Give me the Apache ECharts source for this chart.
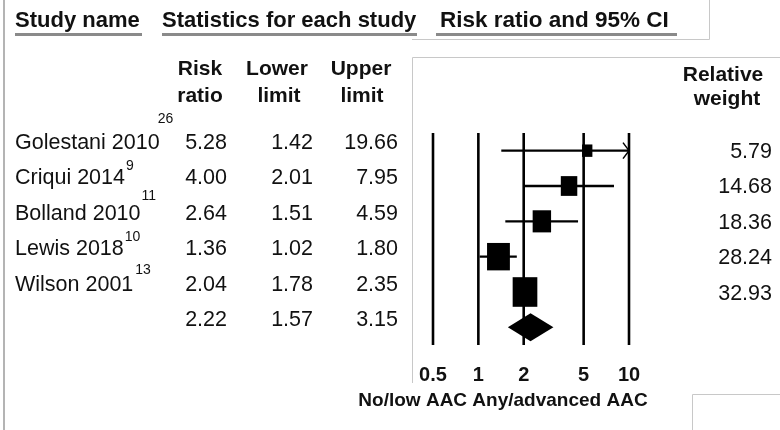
<!DOCTYPE html>
<html>
<head>
<meta charset="utf-8">
<script src="https://cdn.jsdelivr.net/npm/echarts@6/dist/echarts.min.js"></script>
<style>html,body{margin:0;background:#fff}#main{width:780px;height:430px}</style>
</head>
<body>
<div id="main"></div>
<script>
// data
var studies = ['Golestani 2010', 'Criqui 2014', 'Bolland 2010', 'Lewis 2018', 'Wilson 2001'];
var refs = ['26', '9', '11', '10', '13'];
var riskRatio = [5.28, 4.00, 2.64, 1.36, 2.04];
var lowerLimit = [1.42, 2.01, 1.51, 1.02, 1.78];
var upperLimit = [19.66, 7.95, 4.59, 1.80, 2.35];
var weights = [5.79, 14.68, 18.36, 28.24, 32.93];
var pooled = [2.22, 1.57, 3.15];
var tickValues = [0.5, 1, 2, 5, 10];

var FONT = '"Liberation Sans", Arial, sans-serif';
var axisMin = 0.5, axisMax = 10;
var supDx = [-3, 0, 0, 0, 1];
var supDy = [-24, -12, -18, -12, -14];

var myChart = echarts.init(document.getElementById('main'));

// measuring names to place reference superscripts
var ctx = document.createElement('canvas').getContext('2d');
ctx.font = '21.5px ' + FONT;

function txt(text, x, y, size, bold, align) {
	return {
		type: 'text', x: x, y: y,
		style: {
			text: text, fill: '#111',
			font: (bold ? 'bold ' : '') + size + 'px ' + FONT,
			align: align || 'left', verticalAlign: 'middle'
		}
	};
}

var g = [];
// frames
g.push({type: 'line', shape: {x1: 4, y1: 0, x2: 4, y2: 430}, style: {stroke: '#b4b4b4', lineWidth: 2}});
g.push({type: 'polyline', shape: {points: [[412, 39.5], [709.5, 39.5], [709.5, 0]]}, style: {stroke: '#c8c8c8', lineWidth: 1, fill: null}});
g.push({type: 'polyline', shape: {points: [[780, 57.5], [412.5, 57.5], [412.5, 383]]}, style: {stroke: '#c8c8c8', lineWidth: 1, fill: null}});
g.push({type: 'polyline', shape: {points: [[692.5, 430], [692.5, 394.5], [780, 394.5]]}, style: {stroke: '#c8c8c8', lineWidth: 1, fill: null}});

// header
g.push(txt('Study name', 15, 21, 22, true));
g.push(txt('Statistics for each study', 162, 21, 22, true));
g.push(txt('Risk ratio and 95% CI', 440, 21, 22.5, true));
g.push({type: 'rect', shape: {x: 15, y: 33, width: 127, height: 3}, style: {fill: '#8a8a8a'}});
g.push({type: 'rect', shape: {x: 162, y: 33, width: 255, height: 3}, style: {fill: '#8a8a8a'}});
g.push({type: 'rect', shape: {x: 436, y: 33, width: 241, height: 3}, style: {fill: '#8a8a8a'}});

g.push(txt('Risk', 200, 69, 21, true, 'center'));
g.push(txt('ratio', 200, 96, 21, true, 'center'));
g.push(txt('Lower', 277, 69, 21, true, 'center'));
g.push(txt('limit', 279, 96, 21, true, 'center'));
g.push(txt('Upper', 361, 69, 21, true, 'center'));
g.push(txt('limit', 362, 96, 21, true, 'center'));
g.push(txt('Relative', 723, 75, 21, true, 'center'));
g.push(txt('weight', 727, 99, 21, true, 'center'));

// table rows
for (var i = 0; i < studies.length; i++) {
	var ty = 143 + 35.4 * i;
	g.push(txt(studies[i], 15, ty, 21.5, false));
	var w = ctx.measureText(studies[i]).width;
	g.push(txt(refs[i], 15 + w + 1 + supDx[i], ty + supDy[i], 14, false));
	g.push(txt(riskRatio[i].toFixed(2), 227, ty, 21.5, false, 'right'));
	g.push(txt(lowerLimit[i].toFixed(2), 313, ty, 21.5, false, 'right'));
	g.push(txt(upperLimit[i].toFixed(2), 398, ty, 21.5, false, 'right'));
	g.push(txt(weights[i].toFixed(2), 772, 152 + 35.4 * i, 21.5, false, 'right'));
}
var py = 143 + 35.4 * studies.length;
g.push(txt(pooled[0].toFixed(2), 227, py, 21.5, false, 'right'));
g.push(txt(pooled[1].toFixed(2), 313, py, 21.5, false, 'right'));
g.push(txt(pooled[2].toFixed(2), 398, py, 21.5, false, 'right'));

g.push(txt('No/low AAC Any/advanced AAC', 503, 401, 19, true, 'center'));

var studyData = studies.map(function(s, i) {
	return [riskRatio[i], lowerLimit[i], upperLimit[i], weights[i], i];
});

var option = {
	animation: false,
	grid: {left: 433, right: 151, top: 133, bottom: 85},
	xAxis: {type: 'log', logBase: 10, min: axisMin, max: axisMax, show: false},
	yAxis: {type: 'value', min: -0.5, max: 5.5, inverse: true, show: false},
	graphic: g,
	series: [{
		// vertical reference lines and tick labels
		type: 'custom',
		clip: false,
		data: tickValues.map(function(v) { return [v, 0]; }),
		encode: {x: 0, y: 1},
		renderItem: function(params, api) {
			var v = api.value(0);
			var top = api.coord([v, -0.5]);
			var bot = api.coord([v, 5.5]);
			return {
				type: 'group',
				children: [{
					type: 'line',
					shape: {x1: top[0], y1: top[1], x2: bot[0], y2: bot[1]},
					style: {stroke: '#000', lineWidth: 2.6}
				}, {
					type: 'text', x: bot[0], y: bot[1] + 30,
					style: {text: String(v), fill: '#111', font: 'bold 20px ' + FONT, align: 'center', verticalAlign: 'middle'}
				}]
			};
		}
	}, {
		// individual studies
		type: 'custom',
		clip: false,
		data: studyData,
		encode: {x: 0, y: 4},
		renderItem: function(params, api) {
			var y = api.value(4);
			var hiVal = api.value(2);
			var c = api.coord([api.value(0), y]);
			var lo = api.coord([api.value(1), y]);
			var hi = api.coord([Math.min(hiVal, axisMax), y]);
			var sw = 4.3 * Math.sqrt(api.value(3)), sh = sw * 1.2;
			var kids = [{
				type: 'line',
				shape: {x1: lo[0], y1: lo[1], x2: hi[0], y2: hi[1]},
				style: {stroke: '#000', lineWidth: 2.3}
			}];
			if (hiVal > axisMax) {
				kids.push({
					type: 'polyline',
					shape: {points: [[hi[0] - 6, hi[1] - 8], [hi[0], hi[1]], [hi[0] - 6, hi[1] + 8]]},
					style: {stroke: '#000', lineWidth: 1.5, fill: null}
				});
			}
			kids.push({
				type: 'rect',
				shape: {x: c[0] - sw / 2, y: c[1] - sh / 2, width: sw, height: sh},
				style: {fill: '#000'}
			});
			return {type: 'group', children: kids};
		}
	}, {
		// pooled estimate
		type: 'custom',
		clip: false,
		data: [[pooled[0], pooled[1], pooled[2], studies.length]],
		encode: {x: 0, y: 3},
		renderItem: function(params, api) {
			var y = api.value(3);
			var c = api.coord([api.value(0), y]);
			var lo = api.coord([api.value(1), y]);
			var hi = api.coord([api.value(2), y]);
			return {
				type: 'polygon',
				shape: {points: [[lo[0], c[1]], [c[0], c[1] - 14], [hi[0], c[1]], [c[0], c[1] + 14]]},
				style: {fill: '#000'}
			};
		}
	}]
};

myChart.setOption(option);
</script>
</body>
</html>
